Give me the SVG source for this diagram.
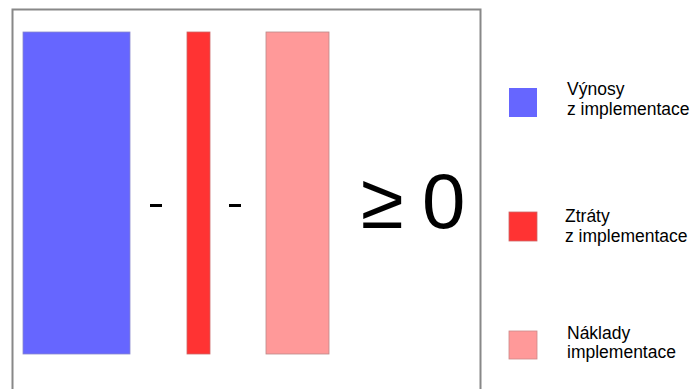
<svg xmlns="http://www.w3.org/2000/svg" width="694" height="389" viewBox="0 0 694 389">
<style>
.lbl{font-family:"Liberation Sans",Arial,sans-serif;font-size:17.5px;fill:#000}
.op{font-family:"Liberation Sans",Arial,sans-serif;fill:#000}
</style>
<rect width="694" height="389" fill="#fff"/>
<path d="M12.5 392 V9.5 H480.5 V392" fill="none" stroke="#888" stroke-width="2"/>
<g id="bar-vynosy"><rect x="23" y="32" width="107" height="322" fill="#6666ff" stroke="#8888cc" stroke-width="0.8"/></g>
<g id="bar-ztraty"><rect x="187" y="32" width="23" height="322" fill="#ff3333" stroke="#cc6666" stroke-width="0.8"/></g>
<g id="bar-naklady"><rect x="266" y="32" width="63" height="322" fill="#ff9999" stroke="#bb8888" stroke-width="0.8"/></g>
<g id="operators">
<rect x="150" y="204" width="12" height="3" fill="#000"/>
<rect x="229" y="204" width="12" height="3" fill="#000"/>
<text class="op" x="361" y="228" font-size="78">≥</text>
<text class="op" x="422" y="228" font-size="78">0</text>
</g>
<g id="legend-vynosy">
<rect x="509" y="88" width="28" height="29" fill="#6666ff"/>
<text class="lbl" x="567" y="95">Výnosy</text>
<text class="lbl" x="567" y="115">z implementace</text>
</g>
<g id="legend-ztraty">
<rect x="509" y="212" width="28" height="29" fill="#ff3333" stroke="#cc6666" stroke-width="0.8"/>
<text class="lbl" x="565" y="222">Ztráty</text>
<text class="lbl" x="565" y="242">z implementace</text>
</g>
<g id="legend-naklady">
<rect x="509" y="331" width="28" height="28" fill="#ff9999" stroke="#cc8888" stroke-width="0.8"/>
<text class="lbl" x="567" y="339">Náklady</text>
<text class="lbl" x="567" y="358">implementace</text>
</g>
<g id="connectors"></g>
</svg>
